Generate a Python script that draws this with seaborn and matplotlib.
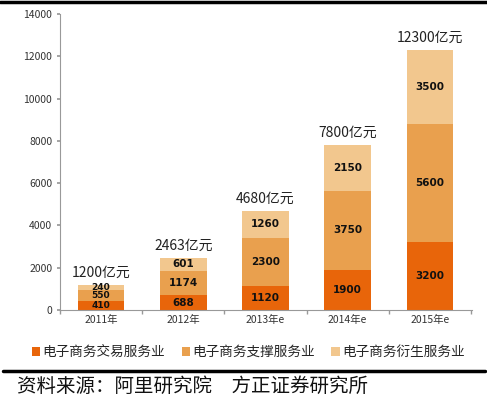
import numpy as np
import pandas as pd
import seaborn as sns
import matplotlib.pyplot as plt
from matplotlib.lines import Line2D
from matplotlib.patches import Patch

sns.set_theme(style="white")
plt.rcParams['font.family'] = ['Noto Sans CJK SC', 'DejaVu Sans']

years = ["2011年", "2012年", "2013年e", "2014年e", "2015年e"]
trade = [410, 688, 1120, 1900, 3200]
support = [550, 1174, 2300, 3750, 5600]
derived = [240, 601, 1260, 2150, 3500]
totals = ["1200亿元", "2463亿元", "4680亿元", "7800亿元", "12300亿元"]
series_names = ["电子商务交易服务业", "电子商务支撑服务业", "电子商务衍生服务业"]
colors = ["#E8650A", "#E9A04E", "#F2C78E"]

df = pd.DataFrame({"year": years, "trade": trade, "support": support, "derived": derived})
df["lvl1"] = df["trade"]
df["lvl2"] = df["trade"] + df["support"]
df["lvl3"] = df["lvl2"] + df["derived"]

fig = plt.figure(figsize=(4.87, 4.01), dpi=100)
ax = fig.add_axes([0.123, 0.227, 0.846, 0.738])

# draw cumulative heights from the top layer down
for col, c in zip(["lvl3", "lvl2", "lvl1"], colors[::-1]):
    sns.barplot(data=df, x="year", y=col, color=c, width=0.57, saturation=1,
                edgecolor="none", linewidth=0, ax=ax)

# segment labels
for i in range(len(years)):
    mids = [df["trade"][i] / 2,
            df["lvl1"][i] + df["support"][i] / 2,
            df["lvl2"][i] + df["derived"][i] / 2]
    vals = [trade[i], support[i], derived[i]]
    fs = 6.5 if i == 0 else 7.5
    for m, v in zip(mids, vals):
        ax.text(i, m, str(v), ha="center", va="center", fontsize=fs,
                fontweight="bold", color="#111111", family=['DejaVu Sans'])
    ax.text(i, df["lvl3"][i] + 250, totals[i], ha="center", va="bottom",
            fontsize=10, color="#222222")

ax.set_ylim(0, 14000)
ax.set_xlim(-0.49, 4.51)
ax.set_yticks(np.arange(0, 14001, 2000))
ax.set_xlabel("")
ax.set_ylabel("")
ax.tick_params(axis="both", labelsize=7.5, colors="#333333", length=0)
ax.tick_params(axis="y", length=2, color="#999999", direction="out", left=True)
ax.set_xticks(np.arange(-0.5, 4.6, 1), minor=True)
ax.tick_params(axis="x", which="minor", length=3, color="#999999", direction="out", bottom=True)
for s in ["top", "right"]:
    ax.spines[s].set_visible(False)
for s in ["left", "bottom"]:
    ax.spines[s].set_color("#999999")
    ax.spines[s].set_linewidth(0.8)

handles = [Patch(facecolor=c, edgecolor="none") for c in colors]
fig.legend(handles, series_names, loc="center", bbox_to_anchor=(0.51, 0.122), ncol=3,
           frameon=False, fontsize=9.8, handlelength=0.6, handleheight=0.6,
           handletextpad=0.2, columnspacing=1.2)

fig.add_artist(Line2D([0, 1], [0.995, 0.995], color="black", linewidth=2.5, transform=fig.transFigure))
fig.add_artist(Line2D([0.006, 0.996], [0.075, 0.075], color="black", linewidth=2.5, transform=fig.transFigure))
fig.text(0.035, 0.037, "资料来源：阿里研究院　方正证券研究所", fontsize=14, color="#111111",
         ha="left", va="center", style="italic")

fig.savefig("out.png", dpi=100)
